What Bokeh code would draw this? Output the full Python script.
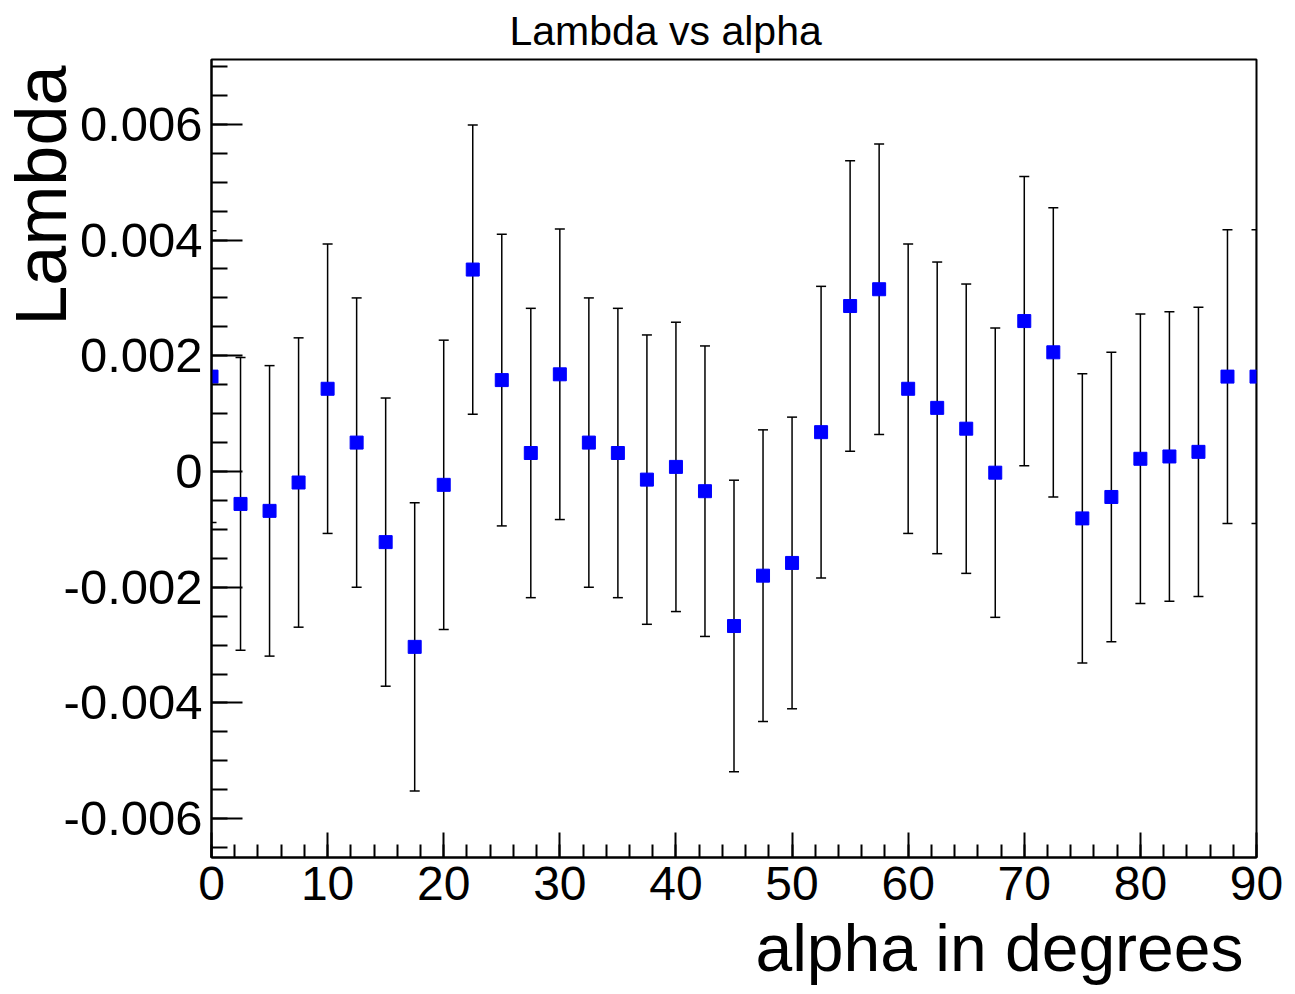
from bokeh.plotting import figure
from bokeh.models import (Range1d, SingleIntervalTicker, CustomJSTickFormatter,
                          Whisker, TeeHead, ColumnDataSource, Title)
from bokeh.embed import file_html
from bokeh.resources import INLINE

# ---- data ----
alpha = [0, 2.5, 5, 7.5, 10, 12.5, 15, 17.5, 20, 22.5, 25, 27.5, 30, 32.5, 35,
         37.5, 40, 42.5, 45, 47.5, 50, 52.5, 55, 57.5, 60, 62.5, 65, 67.5, 70,
         72.5, 75, 77.5, 80, 82.5, 85, 87.5, 90]
lam = [0.00164, -0.00056, -0.00068, -0.00019, 0.00143, 0.00050, -0.00122,
       -0.00303, -0.00023, 0.00349, 0.00158, 0.00032, 0.00168, 0.00050, 0.00032,
       -0.00014, 0.00008, -0.00034, -0.00267, -0.00180, -0.00158, 0.00068,
       0.00286, 0.00315, 0.00143, 0.00110, 0.00074, -0.00002, 0.00260, 0.00206,
       -0.00081, -0.00044, 0.00022, 0.00026, 0.00034, 0.00164, 0.00164]
err = [0.00252, 0.00253, 0.00251, 0.00250, 0.00250, 0.00250, 0.00249,
       0.00249, 0.00250, 0.00250, 0.00252, 0.00250, 0.00251, 0.00250, 0.00250,
       0.00250, 0.00250, 0.00251, 0.00252, 0.00252, 0.00252, 0.00252,
       0.00251, 0.00251, 0.00250, 0.00252, 0.00250, 0.00250, 0.00250, 0.00250,
       0.00250, 0.00250, 0.00250, 0.00250, 0.00250, 0.00254, 0.00254]

title_text = "Lambda vs alpha"
x_title = "alpha in degrees"
y_title = "Lambda"

src = ColumnDataSource(dict(
    alpha=alpha, lam=lam,
    upper=[l + e for l, e in zip(lam, err)],
    lower=[l - e for l, e in zip(lam, err)],
))

FONT = "Liberation Sans"

p = figure(width=1290, height=990, output_backend="svg", toolbar_location=None,
           x_range=Range1d(0, 90), y_range=Range1d(-0.00667, 0.00712),
           min_border_left=211, min_border_right=34, min_border_top=59,
           min_border_bottom=133, background_fill_color="white",
           border_fill_color="white")

p.title.text = title_text
p.title.text_font = FONT
p.title.text_font_size = "41px"
p.title.text_font_style = "normal"
p.title.text_color = "black"
p.title.align = "left"
p.title.offset = 298
p.title.standoff = 11

p.grid.visible = False
p.outline_line_color = "black"
p.outline_line_width = 2

p.xaxis.ticker = SingleIntervalTicker(interval=10, num_minor_ticks=5)
p.yaxis.ticker = SingleIntervalTicker(interval=0.002, num_minor_ticks=4)
p.yaxis.formatter = CustomJSTickFormatter(
    code="if (Math.abs(tick) < 1e-12) { return '0'; } return tick.toFixed(3);")

for ax in (p.xaxis[0], p.yaxis[0]):
    ax.axis_line_color = "black"
    ax.axis_line_width = 2
    ax.major_tick_line_color = "black"
    ax.minor_tick_line_color = "black"
    ax.major_tick_line_width = 2
    ax.minor_tick_line_width = 2
    ax.major_tick_out = 0
    ax.minor_tick_out = 0
    ax.major_label_text_font = FONT
    ax.major_label_text_color = "black"

p.xaxis.major_tick_in = 25
p.xaxis.minor_tick_in = 13
p.xaxis.major_label_text_font_size = "48px"
p.xaxis.major_label_standoff = 9

p.yaxis.major_tick_in = 31
p.yaxis.minor_tick_in = 16
p.yaxis.major_label_text_font_size = "49px"
p.yaxis.major_label_standoff = 9

# axis titles, ROOT style: aligned with the far end of each axis
xt = Title(text=x_title, align="right", offset=13, standoff=12,
           text_font=FONT, text_font_size="66px", text_font_style="normal",
           text_color="black")
p.add_layout(xt, "below")
yt = Title(text=y_title, align="right", offset=6, standoff=-40,
           text_font=FONT, text_font_size="72px", text_font_style="normal",
           text_color="black")
p.add_layout(yt, "left")

# error bars
wh = Whisker(source=src, base="alpha", upper="upper", lower="lower",
             line_color="black", line_width=1.5,
             upper_head=TeeHead(size=10, line_color="black", line_width=1.5),
             lower_head=TeeHead(size=10, line_color="black", line_width=1.5))
p.add_layout(wh)

p.scatter(x="alpha", y="lam", source=src, marker="square", size=13,
          fill_color="#0000ff", line_color="#0000ff")

open("out.html", "w").write(file_html(p, INLINE))
